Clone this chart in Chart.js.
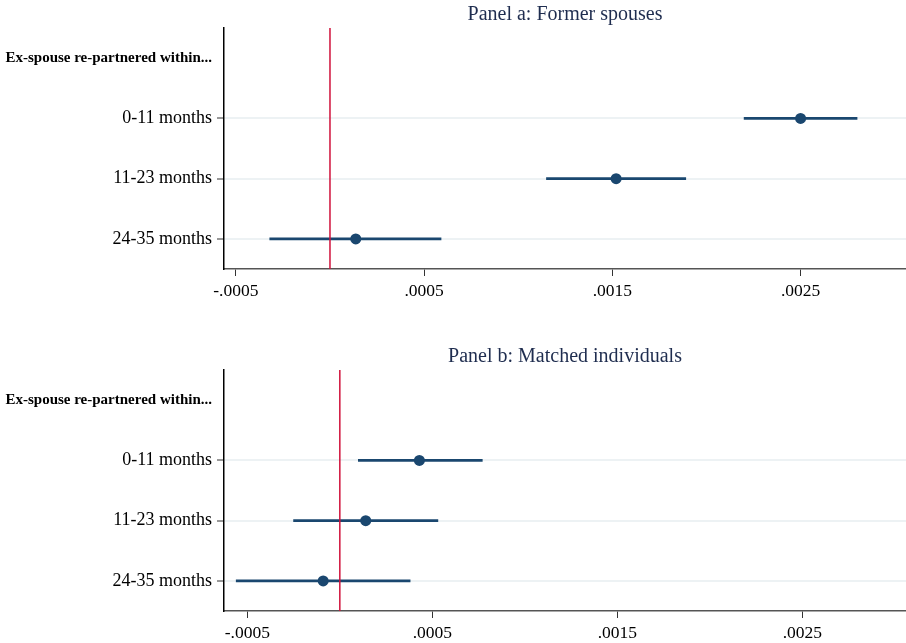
<!DOCTYPE html>
<html>
<head>
<meta charset="utf-8">
<script src="https://cdn.jsdelivr.net/npm/chart.js@4.4.3/dist/chart.umd.min.js"></script>
<style>
  html, body { margin: 0; padding: 0; background: #fff; }
  #wrap { position: relative; width: 906px; height: 643px; background: #fff; }
  canvas { position: absolute; left: 0; }
</style>
</head>
<body>
<div id="wrap">
  <canvas id="panel-a" width="906" height="301" style="top:0"></canvas>
  <canvas id="panel-b" width="906" height="301" style="top:342px"></canvas>
</div>
<script>
// Row labels (first one is a header row with no estimate)
const rowLabels = ['Ex-spouse re-partnered within...', '0-11 months', '11-23 months', '24-35 months'];

// Panel a: Former spouses
const titleA = 'Panel a: Former spouses';
const estA = [null, 0.00250, 0.00152, 0.000137];
const loA  = [null, 0.00220, 0.00115, -0.00032];
const hiA  = [null, 0.00280, 0.00189, 0.00059];
const rangeA = [-0.000563, 0.00306];

// Panel b: Matched individuals
const titleB = 'Panel b: Matched individuals';
const estB = [null, 0.00043, 0.00014, -0.00009];
const loB  = [null, 0.00010, -0.00025, -0.00056];
const hiB  = [null, 0.00077, 0.00053, 0.00038];
const rangeB = [-0.000626, 0.00306];

// x axis ticks
const tickValues = [-0.0005, 0.0005, 0.0015, 0.0025];
const tickLabels = ['-.0005', '.0005', '.0015', '.0025'];

const SERIF = '"Liberation Serif", "Times New Roman", serif';
const NAVY = '#1a476f';

// zero reference line + title centred over the plot area
const panelDecor = {
    id: 'panelDecor',
    afterDatasetsDraw(chart, args, opts) {
        const { ctx, chartArea } = chart;
        const x0 = chart.scales.x.getPixelForValue(0);
        ctx.save();
        ctx.strokeStyle = '#d0103a';
        ctx.lineWidth = 1.5;
        ctx.beginPath();
        ctx.moveTo(x0, chartArea.top);
        ctx.lineTo(x0, chartArea.bottom);
        ctx.stroke();

        ctx.fillStyle = '#1f2d4f';
        ctx.font = '20px ' + SERIF;
        ctx.textAlign = 'center';
        ctx.textBaseline = 'middle';
        ctx.fillText(opts.title, (chartArea.left + chartArea.right) / 2, 15);
        ctx.restore();
    }
};

function makePanel(canvasId, title, est, lo, hi, range) {
    const ciData = lo.map((l, i) => (l === null ? null : [l, hi[i]]));

    return new Chart(document.getElementById(canvasId), {
        data: {
            labels: rowLabels,
            datasets: [
                {
                    type: 'line',
                    indexAxis: 'y',
                    data: est,
                    showLine: false,
                    pointRadius: 5.5,
                    pointBackgroundColor: NAVY,
                    pointBorderColor: NAVY,
                    pointBorderWidth: 0,
                    order: 0
                },
                {
                    type: 'bar',
                    indexAxis: 'y',
                    data: ciData,
                    backgroundColor: NAVY,
                    borderWidth: 0,
                    barThickness: 2,
                    order: 1
                }
            ]
        },
        options: {
            responsive: false,
            animation: false,
            indexAxis: 'y',
            layout: { autoPadding: false, padding: { top: 28, left: 0, right: 0, bottom: 0 } },
            plugins: {
                legend: { display: false },
                tooltip: { enabled: false },
                title: { display: false },
                panelDecor: { title: title }
            },
            scales: {
                x: {
                    type: 'linear',
                    min: range[0],
                    max: range[1],
                    afterBuildTicks: (scale) => { scale.ticks = tickValues.map(v => ({ value: v })); },
                    afterFit: (scale) => {
                        scale.height = 32;
                        scale.paddingLeft = 0;
                        scale.paddingRight = 0;
                    },
                    border: { display: true, color: '#555', width: 1.5 },
                    grid: { drawOnChartArea: false, drawTicks: true, tickLength: 7, tickColor: '#333', tickWidth: 1 },
                    ticks: {
                        autoSkip: false,
                        maxRotation: 0,
                        padding: 5,
                        color: '#000',
                        font: { family: SERIF, size: 17.5 },
                        callback: (value, index) => tickLabels[index]
                    }
                },
                y: {
                    type: 'category',
                    labels: rowLabels,
                    offset: true,
                    afterFit: (scale) => { scale.width = 224; },
                    border: { display: true, color: '#000', width: 1.5 },
                    grid: {
                        offset: false,
                        drawTicks: true,
                        tickLength: 7,
                        lineWidth: 2,
                        color: (c) => (c.index === 0 ? 'rgba(0,0,0,0)' : '#edf2f4'),
                        tickColor: (c) => (c.index === 0 ? 'rgba(0,0,0,0)' : '#333'),
                        tickWidth: 1
                    },
                    ticks: {
                        autoSkip: false,
                        padding: 5,
                        color: '#000',
                        font: (c) => (c.index === 0
                            ? { family: SERIF, size: 15, weight: 'bold' }
                            : { family: SERIF, size: 18 })
                    }
                }
            }
        },
        plugins: [panelDecor]
    });
}

makePanel('panel-a', titleA, estA, loA, hiA, rangeA);
makePanel('panel-b', titleB, estB, loB, hiB, rangeB);
</script>
</body>
</html>
